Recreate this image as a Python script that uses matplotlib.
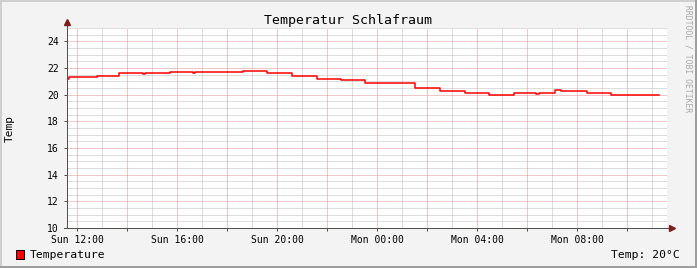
import matplotlib
matplotlib.use("Agg")
import matplotlib.pyplot as plt
from matplotlib.patches import Rectangle
from matplotlib.lines import Line2D

# ---- data (hours since Sunday 00:00, temperature in °C) ----
times = [11.56, 11.68, 12.80, 13.68, 14.64, 14.72, 15.72, 16.64, 16.72, 18.64,
         19.60, 20.60, 21.60, 22.56, 23.52, 25.52, 26.52, 27.52, 28.48, 29.48,
         30.36, 30.48, 31.12, 31.36, 32.40, 33.36, 35.28]
temps = [21.20, 21.33, 21.41, 21.63, 21.58, 21.63, 21.70, 21.63, 21.70, 21.78,
         21.63, 21.41, 21.19, 21.11, 20.89, 20.52, 20.30, 20.15, 20.00, 20.15,
         20.07, 20.15, 20.37, 20.30, 20.15, 20.00, 20.00]
label_hours = [12, 16, 20, 24, 28, 32]
tick_labels = ["Sun 12:00", "Sun 16:00", "Sun 20:00", "Mon 00:00", "Mon 04:00", "Mon 08:00"]
y_ticks = [10, 12, 14, 16, 18, 20, 22, 24]
title = "Temperatur Schlafraum"
series_name = "Temperature"
last_text = "Temp: 20°C"

W, H = 697, 268
fig = plt.figure(figsize=(W / 100, H / 100), dpi=100)
fig.patch.set_facecolor("#F3F3F3")
mono = "DejaVu Sans Mono"

L, R, B, T = 67, 667, 228, 28
ax = fig.add_axes([L / W, 1 - B / H, (R - L) / W, (B - T) / H])
ax.set_facecolor("white")
ax.set_xlim(11.6, 35.6)
ax.set_ylim(10, 25)

px = 0.72
minor_c = "#BDBDBD"
major_c = "#E09090"
dot = (0, (1, 1))
# minor grid
for h in range(12, 36):
    if h % 2 == 1:
        ax.axvline(h, color=minor_c, lw=px, ls=dot, zorder=1)
for i in range(21, 51):
    v = i / 2
    if v % 2 != 0:
        ax.axhline(v, color=minor_c, lw=px, ls=dot, zorder=1)
# major grid
for h in range(12, 36, 2):
    ax.axvline(h, color=major_c, lw=px, ls=dot, zorder=2)
for v in range(12, 26, 2):
    ax.axhline(v, color=major_c, lw=px, ls=dot, zorder=2)

ax.plot(times, temps, drawstyle="steps-post", color="#FF0000", lw=1.1, zorder=5)

for s in ax.spines.values():
    s.set_visible(False)

axis_c = "#505050"
ax.add_line(Line2D([0, 0], [0, 1.02], transform=ax.transAxes, color=axis_c, lw=px, clip_on=False, zorder=6))
ax.add_line(Line2D([-0.005, 1.0083], [0, 0], transform=ax.transAxes, color=axis_c, lw=px, clip_on=False, zorder=6))
ax.plot([0], [1.03], marker="^", ms=4.5, color="#7F1D1D", transform=ax.transAxes, clip_on=False, zorder=7)
ax.plot([1.0083], [0], marker=">", ms=4.5, color="#7F1D1D", transform=ax.transAxes, clip_on=False, zorder=7)

ax.set_yticks(y_ticks)
ax.set_yticklabels([str(v) for v in y_ticks], fontfamily=mono, fontsize=7)
ax.set_xticks(list(range(12, 36, 2)))
lab = {h: t for h, t in zip(label_hours, tick_labels)}
ax.set_xticklabels([lab.get(h, "") for h in range(12, 36, 2)], fontfamily=mono, fontsize=7)
ax.tick_params(axis="both", length=2, width=px, color=axis_c, labelcolor="black")
ax.tick_params(axis="y", pad=4)
ax.tick_params(axis="x", pad=3)

fig.text(348.5 / W, 1 - 24 / H, title, ha="center", va="baseline", fontfamily=mono, fontsize=9.5)
fig.text(10 / W, 1 - 128 / H, "Temp", ha="center", va="center", rotation=90, fontfamily=mono, fontsize=8)
fig.text(688 / W, 1 - 59 / H, "RRDTOOL / TOBI OETIKER", ha="center", va="center", rotation=270,
         fontfamily=mono, fontsize=5.8, color="#A8A8A8")

fig.add_artist(Rectangle((15.5 / W, 1 - 258.5 / H), 8.5 / W, 8.5 / H, transform=fig.transFigure,
                         facecolor="#FF0000", edgecolor="black", lw=px))
fig.text(30 / W, 1 - 257.5 / H, series_name, ha="left", va="baseline", fontfamily=mono, fontsize=8.2)
fig.text(680 / W, 1 - 257.5 / H, last_text, ha="right", va="baseline", fontfamily=mono, fontsize=8.2)

# 3D border
fig.add_artist(Rectangle((0, 0), 2 / W, 1, transform=fig.transFigure, facecolor="#CFCFCF", lw=0))
fig.add_artist(Rectangle((0, 1 - 2 / H), 1, 2 / H, transform=fig.transFigure, facecolor="#CFCFCF", lw=0))
fig.add_artist(Rectangle((1 - 2 / W, 0), 2 / W, 1, transform=fig.transFigure, facecolor="#9E9E9E", lw=0))
fig.add_artist(Rectangle((0, 0), 1, 2 / H, transform=fig.transFigure, facecolor="#9E9E9E", lw=0))

fig.savefig("out.png", dpi=100, facecolor=fig.get_facecolor())
